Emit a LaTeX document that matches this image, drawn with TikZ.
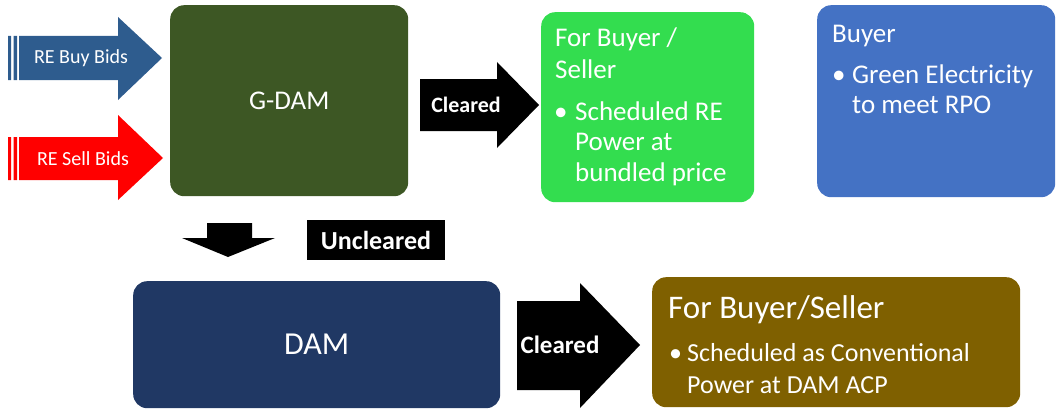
\documentclass[tikz,border=0pt]{standalone}
\usepackage{fontspec}
\setmainfont{Carlito}
\definecolor{buyblue}{HTML}{2E5C8E}
\definecolor{sellred}{HTML}{FF0000}
\definecolor{gdamgreen}{HTML}{3D5724}
\definecolor{brightgreen}{HTML}{33DD4F}
\definecolor{buyerblue}{HTML}{4472C4}
\definecolor{damnavy}{HTML}{203864}
\definecolor{ochre}{HTML}{7F6000}
\tikzset{
  panel/.style={rounded corners=14pt, inner sep=0pt, anchor=north west, text=white},
  line/.style={anchor=base west, inner sep=0pt, text=white},
  tag/.style={inner sep=0pt, text=white},
}
\newcommand\fs[1]{\fontsize{#1}{#1}\selectfont}
\begin{document}
\begin{tikzpicture}[x=1pt, y=-1pt]
\useasboundingbox (0,0) rectangle (1057,412);

% striped input arrows
\fill[buyblue] (8,36) rectangle (11,80) (13.5,36) rectangle (17,80);
\fill[buyblue] (19,36) -- (118,36) -- (118,17) -- (162,58) -- (118,100) -- (118,80) -- (19,80) -- cycle;
\node[tag, font=\fs{20}] (buy) at (81,58) {RE Buy Bids};

\fill[sellred] (8,137) rectangle (11,180) (13.5,137) rectangle (17,180);
\fill[sellred] (19,137) -- (118,137) -- (118,115) -- (163,158) -- (118,200) -- (118,180) -- (19,180) -- cycle;
\node[tag, font=\fs{20}] (sell) at (83,159) {RE Sell Bids};

% G-DAM block
\node[panel, fill=gdamgreen, minimum width=238pt, minimum height=191pt] (gdam) at (170,5) {};
\node[tag, font=\fs{27}] (gdamlbl) at (gdam.center) {G-DAM};

% cleared to green result
\fill[black] (420,79) -- (497,79) -- (497,62) -- (539,105) -- (497,148) -- (497,131) -- (420,131) -- cycle;
\node[tag, font=\bfseries\fs{22}] (clr1) at (466,105) {Cleared};

\node[panel, fill=brightgreen, minimum width=213pt, minimum height=190pt] (green) at (541,12) {};
\node[line, font=\fs{27}] (g1) at (555,47) {For Buyer /};
\node[line, font=\fs{27}] (g2) at (555,78) {Seller};
\node[line, font=\fs{27}] (g3) at (554,120) {•};
\node[line, font=\fs{27}] (g4) at (575,120) {Scheduled RE};
\node[line, font=\fs{27}] (g5) at (575,150) {Power at};
\node[line, font=\fs{27}] (g6) at (575,181) {bundled price};

% buyer block
\node[panel, fill=buyerblue, minimum width=238pt, minimum height=192pt] (buyer) at (817,5) {};
\node[line, font=\fs{27}] (b1) at (832,43) {Buyer};
\node[line, font=\fs{27}] (b2) at (832,83) {•};
\node[line, font=\fs{27}] (b3) at (852,83) {Green Electricity};
\node[line, font=\fs{27}] (b4) at (852,113) {to meet RPO};

% uncleared path
\fill[black] (207,223) -- (252,223) -- (252,238) -- (275,238) -- (228,257) -- (182,238) -- (207,238) -- cycle;
\node[fill=black, minimum width=138pt, minimum height=40pt, inner sep=0pt, text=white, font=\bfseries\fs{26}] (unclr) at (376,240) {Uncleared};

% DAM block
\node[panel, fill=damnavy, minimum width=367pt, minimum height=127pt] (dam) at (133,281) {};
\node[tag, font=\fs{32}] (damlbl) at (dam.center) {DAM};

% cleared to conventional result
\fill[black] (517,301) -- (580,301) -- (580,283) -- (640,345) -- (580,408) -- (580,390) -- (517,390) -- cycle;
\node[tag, font=\bfseries\fs{25}] (clr2) at (560,345) {Cleared};

\node[panel, fill=ochre, minimum width=368pt, minimum height=130pt] (brown) at (652,277) {};
\node[line, font=\fs{33}] (r1) at (668,318) {For Buyer/Seller};
\node[line, font=\fs{26}] (r2) at (669,361) {•};
\node[line, font=\fs{26}] (r3) at (687,361) {Scheduled as Conventional};
\node[line, font=\fs{26}] (r4) at (687,393) {Power at DAM ACP};
\end{tikzpicture}
\end{document}
